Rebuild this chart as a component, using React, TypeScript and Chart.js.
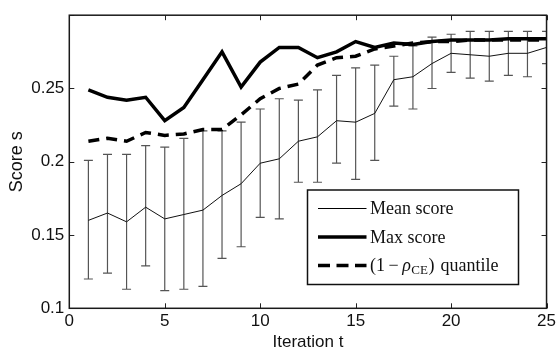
import React, { useEffect, useRef } from 'react';
import { Chart, registerables } from 'chart.js';

Chart.register(...registerables);

const iterations = [1, 2, 3, 4, 5, 6, 7, 8, 9, 10, 11, 12, 13, 14, 15, 16, 17, 18, 19, 20, 21, 22, 23, 24, 25];
const meanScore = [0.160, 0.165, 0.159, 0.169, 0.161, 0.164, 0.167, 0.177, 0.185, 0.199, 0.202, 0.214, 0.217, 0.228, 0.227, 0.233, 0.256, 0.258, 0.267, 0.274, 0.273, 0.272, 0.274, 0.274, 0.278];
const meanLower = [0.120, 0.124, 0.113, 0.129, 0.112, 0.113, 0.115, 0.134, 0.142, 0.162, 0.161, 0.186, 0.186, 0.199, 0.188, 0.201, 0.238, 0.236, 0.250, 0.261, 0.257, 0.255, 0.259, 0.258, 0.267];
const meanUpper = [0.201, 0.205, 0.205, 0.211, 0.210, 0.216, 0.221, 0.221, 0.227, 0.236, 0.243, 0.242, 0.249, 0.259, 0.264, 0.266, 0.272, 0.279, 0.285, 0.287, 0.289, 0.289, 0.289, 0.289, 0.289];
const maxScore = [0.249, 0.244, 0.242, 0.244, 0.228, 0.237, 0.256, 0.275, 0.251, 0.268, 0.278, 0.278, 0.271, 0.275, 0.282, 0.278, 0.281, 0.280, 0.282, 0.283, 0.283, 0.283, 0.284, 0.284, 0.284];
const quantile = [0.214, 0.216, 0.214, 0.220, 0.218, 0.219, 0.222, 0.222, 0.232, 0.243, 0.250, 0.253, 0.266, 0.271, 0.272, 0.277, 0.279, 0.281, 0.282, 0.282, 0.283, 0.283, 0.283, 0.283, 0.283];

const xTicks = [0, 5, 10, 15, 20, 25];
const yTicks = [0.1, 0.15, 0.2, 0.25, 0.3];
const yTickLabels = ['0.1', '0.15', '0.2', '0.25', ''];
const xTitle = 'Iteration t';
const yTitle = 'Score s';
const legendMean = 'Mean score';
const legendMax = 'Max score';
const legendQuantParts = ['(1', '\u2212', '\u03C1', 'CE', ')', 'quantile'];

const SANS = '"Liberation Sans", Arial, Helvetica, sans-serif';
const SERIF = '"Liberation Serif", "Times New Roman", serif';

const decorPlugin = {
  id: 'decor',
  beforeDatasetsDraw(chart: any) {
    const { ctx, chartArea } = chart;
    const xs = chart.scales.x;
    const ys = chart.scales.y;
    ctx.save();
    ctx.beginPath();
    ctx.rect(chartArea.left, chartArea.top, chartArea.right - chartArea.left, chartArea.bottom - chartArea.top);
    ctx.clip();
    ctx.strokeStyle = '#555555';
    ctx.lineWidth = 1.2;
    const cap = 4.5;
    iterations.forEach((t, i) => {
      const px = xs.getPixelForValue(t);
      const lo = ys.getPixelForValue(meanLower[i]);
      const hi = ys.getPixelForValue(meanUpper[i]);
      ctx.beginPath();
      ctx.moveTo(px, lo);
      ctx.lineTo(px, hi);
      ctx.moveTo(px - cap, lo);
      ctx.lineTo(px + cap, lo);
      ctx.moveTo(px - cap, hi);
      ctx.lineTo(px + cap, hi);
      ctx.stroke();
    });
    ctx.restore();
  },
  afterDraw(chart: any) {
    const { ctx, chartArea } = chart;
    const xs = chart.scales.x;
    const ys = chart.scales.y;
    const { left, right, top, bottom } = chartArea;
    ctx.save();
    // inward ticks
    ctx.strokeStyle = '#222';
    ctx.lineWidth = 1;
    const tl = 5;
    xTicks.forEach((v) => {
      const px = Math.round(xs.getPixelForValue(v)) + 0.5;
      ctx.beginPath();
      ctx.moveTo(px, bottom);
      ctx.lineTo(px, bottom - tl);
      ctx.moveTo(px, top);
      ctx.lineTo(px, top + tl);
      ctx.stroke();
    });
    yTicks.forEach((v) => {
      const py = Math.round(ys.getPixelForValue(v)) + 0.5;
      ctx.beginPath();
      ctx.moveTo(left, py);
      ctx.lineTo(left + tl, py);
      ctx.moveTo(right, py);
      ctx.lineTo(right - tl, py);
      ctx.stroke();
    });
    // box
    ctx.strokeStyle = '#1a1a1a';
    ctx.lineWidth = 1.5;
    ctx.strokeRect(left, top, right - left, bottom - top);

    // legend
    const bx = 307.5, by = 190, bw = 211, bh = 94.5;
    ctx.fillStyle = '#ffffff';
    ctx.fillRect(bx, by, bw, bh);
    ctx.strokeStyle = '#111';
    ctx.lineWidth = 1.5;
    ctx.strokeRect(bx, by, bw, bh);
    const rows = [208.5, 237, 265.5];
    const lx0 = 318, lx1 = 366.5, tx = 370;
    ctx.strokeStyle = '#000';
    ctx.lineWidth = 1;
    ctx.beginPath(); ctx.moveTo(lx0, rows[0]); ctx.lineTo(lx1, rows[0]); ctx.stroke();
    ctx.lineWidth = 3.5;
    ctx.beginPath(); ctx.moveTo(lx0, rows[1]); ctx.lineTo(lx1, rows[1]); ctx.stroke();
    ctx.setLineDash([12, 6.5]);
    ctx.beginPath(); ctx.moveTo(lx0, rows[2]); ctx.lineTo(lx1, rows[2]); ctx.stroke();
    ctx.setLineDash([]);

    ctx.fillStyle = '#111';
    ctx.textBaseline = 'alphabetic';
    ctx.textAlign = 'left';
    const fs = 18;
    const normal = `${fs}px ${SERIF}`;
    ctx.font = normal;
    ctx.fillText(legendMean, tx, rows[0] + 5.5);
    ctx.fillText(legendMax, tx, rows[1] + 5.5);
    const base = rows[2] + 5.5;
    const [p0, pMinus, pRho, pSub, pClose, pWord] = legendQuantParts;
    let cx = tx;
    ctx.font = normal;
    ctx.fillText(p0, cx, base);
    cx += ctx.measureText(p0).width + 3.5;
    ctx.fillText(pMinus, cx, base);
    cx += ctx.measureText(pMinus).width + 3.5;
    ctx.font = `italic ${fs}px ${SERIF}`;
    ctx.fillText(pRho, cx, base);
    cx += ctx.measureText(pRho).width + 0.5;
    ctx.font = `13px ${SERIF}`;
    ctx.fillText(pSub, cx, base + 3);
    cx += ctx.measureText(pSub).width + 0.5;
    ctx.font = normal;
    ctx.fillText(pClose, cx, base);
    cx += ctx.measureText(pClose).width + 6;
    ctx.fillText(pWord, cx, base);
    ctx.restore();
  },
};

export default function App() {
  const canvasRef = useRef<HTMLCanvasElement | null>(null);

  useEffect(() => {
    const canvas = canvasRef.current;
    if (!canvas) return;
    const chart = new Chart(canvas, {
      type: 'line',
      data: {
        datasets: [
          {
            label: legendMean,
            data: iterations.map((t, i) => ({ x: t, y: meanScore[i] })),
            borderColor: '#111',
            borderWidth: 1,
            pointRadius: 0,
            tension: 0,
            fill: false,
          },
          {
            label: legendMax,
            data: iterations.map((t, i) => ({ x: t, y: maxScore[i] })),
            borderColor: '#000',
            borderWidth: 3.5,
            pointRadius: 0,
            tension: 0,
            fill: false,
          },
          {
            label: 'quantile',
            data: iterations.map((t, i) => ({ x: t, y: quantile[i] })),
            borderColor: '#000',
            borderWidth: 3.5,
            borderDash: [11, 7],
            pointRadius: 0,
            tension: 0,
            fill: false,
          },
        ],
      },
      options: {
        animation: false,
        responsive: false,
        maintainAspectRatio: false,
        layout: { padding: { top: 7.5, right: 9.7, left: 0, bottom: 0 } },
        plugins: {
          legend: { display: false },
          tooltip: { enabled: false },
        },
        scales: {
          x: {
            type: 'linear',
            min: 0,
            max: 25,
            afterBuildTicks: (s: any) => { s.ticks = xTicks.map((v) => ({ value: v })); },
            afterFit: (s: any) => { s.height = 40.7; },
            grid: { display: false, drawTicks: false },
            border: { display: false },
            ticks: {
              padding: 3,
              color: '#111',
              font: { family: SANS, size: 17 },
              maxRotation: 0,
              autoSkip: false,
            },
            title: {
              display: true,
              text: xTitle,
              color: '#111',
              font: { family: SANS, size: 17, lineHeight: 1 },
              padding: { top: 0, bottom: -2 },
            },
          },
          y: {
            type: 'linear',
            min: 0.1,
            max: 0.3,
            afterBuildTicks: (s: any) => { s.ticks = yTicks.map((v) => ({ value: v })); },
            afterFit: (s: any) => { s.width = 69.3; },
            grid: { display: false, drawTicks: false },
            border: { display: false },
            ticks: {
              padding: 5,
              color: '#111',
              font: { family: SANS, size: 17 },
              autoSkip: false,
              callback: (v: any, i: number) => yTickLabels[i] ?? '',
            },
            title: {
              display: true,
              text: yTitle,
              color: '#111',
              font: { family: SANS, size: 18, lineHeight: 1 },
              padding: { top: 8, bottom: 0 },
            },
          },
        },
      },
      plugins: [decorPlugin],
    } as any);
    return () => chart.destroy();
  }, []);

  return (
    <div style={{ position: 'fixed', left: 0, top: 0, width: 559, height: 349, background: '#fff' }}>
      <canvas ref={canvasRef} width={559} height={349} style={{ display: 'block', width: 559, height: 349 }} />
    </div>
  );
}
